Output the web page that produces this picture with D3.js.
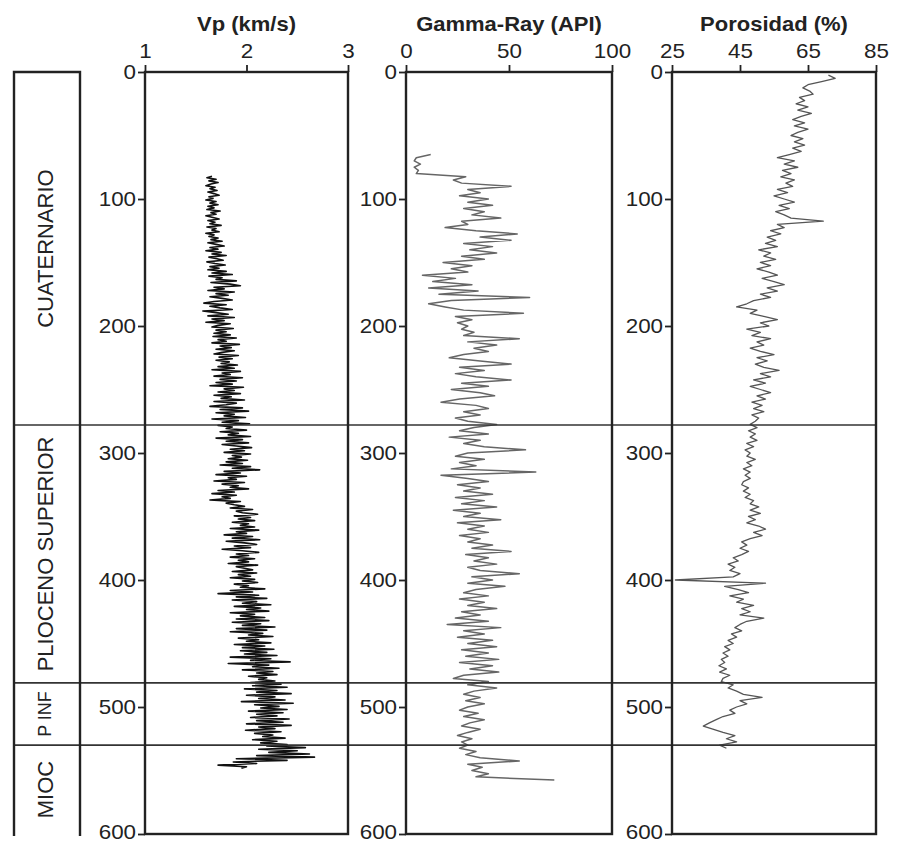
<!DOCTYPE html>
<html>
<head>
<meta charset="utf-8">
<script src="https://cdn.jsdelivr.net/npm/d3@7"></script>
<style>
  body { margin: 0; background: #fff; }
  text { font-family: 'Liberation Sans', Arial, sans-serif; fill: #222; }
</style>
</head>
<body>
<svg id="chart" width="905" height="842"></svg>
<script>
const depthTicks = [0, 100, 200, 300, 400, 500, 600]
const vpTicks = [1, 2, 3]
const gammaTicks = [0, 50, 100]
const porTicks = [25, 45, 65, 85]

const formations = [
  { name: 'CUATERNARIO', top: 0, base: 278 },
  { name: 'PLIOCENO SUPERIOR', top: 278, base: 481 },
  { name: 'P INF', top: 481, base: 530 },
  { name: 'MIOC', top: 530, base: 600 }
]

// Vp (km/s), cada 1.25 m desde 82 m
const vpStart = 82, vpStep = 1.25
const vpValues = [
  1.66,1.61,1.70,1.63,1.72,1.65,1.60,1.69,1.64,1.71,1.62,1.68,1.73,1.63,1.67,1.60,1.70,1.64,1.72,1.62,
  1.68,1.61,1.74,1.65,1.70,1.60,1.67,1.73,1.62,1.69,1.64,1.75,1.61,1.70,1.66,1.73,1.60,1.68,1.63,1.72,
  1.65,1.76,1.62,1.70,1.78,1.64,1.72,1.60,1.75,1.66,1.80,1.63,1.71,1.77,1.61,1.69,1.79,1.64,1.73,1.62,
  1.80,1.66,1.86,1.63,1.76,1.70,1.90,1.65,1.84,1.94,1.68,1.78,1.62,1.88,1.70,1.82,1.64,1.76,1.86,1.68,
  1.58,1.80,1.64,1.74,1.86,1.57,1.70,1.82,1.62,1.88,1.66,1.78,1.60,1.84,1.72,1.66,1.87,1.70,1.80,1.68,
  1.84,1.67,1.90,1.72,1.80,1.66,1.93,1.74,1.85,1.70,1.88,1.76,1.68,1.92,1.73,1.86,1.70,1.83,1.75,1.91,
  1.72,1.88,1.66,1.94,1.76,1.84,1.68,1.96,1.74,1.90,1.70,1.86,1.64,1.97,1.78,1.88,1.72,1.94,1.68,1.85,
  1.75,1.98,1.68,1.90,1.80,1.64,1.96,1.74,2.02,1.70,1.88,1.78,1.99,1.66,1.92,1.76,2.03,1.72,1.86,1.80,
  2.00,1.74,1.92,1.82,2.04,1.70,1.96,1.80,2.02,1.76,1.90,2.05,1.84,1.98,1.78,2.04,1.86,1.95,1.82,2.01,
  1.80,1.96,1.74,2.04,1.86,2.13,1.78,1.94,1.70,2.00,1.82,1.90,1.68,1.98,1.76,1.92,1.84,2.02,1.72,1.88,
  1.66,1.90,1.76,1.84,1.64,1.94,1.80,1.88,1.98,1.84,2.06,1.90,1.96,2.11,1.88,2.04,1.92,2.08,1.86,2.02,
  1.94,2.08,1.84,2.12,1.90,2.00,1.78,2.06,1.86,2.13,1.80,1.98,2.10,1.88,2.04,1.76,1.96,2.12,1.90,2.02,
  1.84,2.08,1.92,2.02,1.82,2.11,1.90,1.98,2.06,1.86,2.10,1.92,2.04,1.84,2.08,1.96,2.11,1.88,2.02,1.94,
  2.18,1.84,2.06,1.72,2.12,1.90,2.20,1.86,2.10,1.96,2.24,1.88,2.14,2.00,2.22,1.84,2.08,1.94,2.18,1.90,
  2.22,1.86,2.14,1.96,2.28,1.90,2.20,1.84,2.16,2.02,2.26,1.92,2.12,2.00,2.24,1.88,2.18,1.96,2.27,1.94,
  2.20,1.98,2.30,1.84,2.24,2.04,2.43,1.82,2.22,2.06,2.32,1.96,2.26,2.10,2.30,2.02,2.20,2.12,2.28,2.04,
  2.34,2.06,2.40,1.98,2.30,2.10,2.44,2.00,2.28,2.12,2.38,1.95,2.46,2.08,2.32,2.14,2.40,2.02,2.36,2.10,
  2.30,2.04,2.42,2.10,2.36,2.00,2.44,2.12,2.28,1.99,2.34,2.08,2.26,2.16,2.38,2.06,2.30,2.14,2.40,2.20,
  2.58,2.12,2.50,2.22,2.62,2.10,2.67,1.90,2.40,1.87,2.10,1.72,2.00,1.95
]

// Gamma-Ray (API), cada 2.5 m desde 65 m
const gammaStart = 65, gammaStep = 2.5
const gammaValues = [
  12,5,4,7,4,6,5,29,23,27,
  51,30,36,26,40,30,42,28,38,32,
  46,27,30,19,34,54,36,51,28,42,
  31,44,27,38,18,32,22,30,8,24,
  13,32,11,35,16,60,22,11,19,28,
  57,24,32,25,30,27,33,28,55,30,
  44,33,40,28,21,36,51,26,38,24,
  34,51,27,40,22,36,43,26,17,34,
  40,28,36,24,30,44,33,26,40,21,
  36,28,38,58,30,24,38,26,34,22,
  63,17,30,40,25,36,28,42,24,38,
  27,44,23,36,28,46,25,38,30,40,
  26,36,30,42,32,51,29,40,33,44,
  30,36,55,32,42,30,48,34,28,40,
  26,38,30,44,27,36,24,40,20,46,
  28,38,25,42,30,44,27,40,29,45,
  26,42,31,45,28,23,40,30,44,33,
  28,36,29,38,30,26,35,28,38,31,
  27,36,30,25,32,27,30,26,34,29,
  36,55,30,37,32,40,34,72
]

// Porosidad (%), cada 2.5 m desde 2.5 m
const porStart = 2.5, porStep = 2.5
const porValues = [
  71,73,69,65,63.5,65.5,66.5,62.5,64,61.5,
  65,62,66,63,60.5,64,61,65,62,60,
  63.5,61,64,60.5,63,59.5,56,61,58,62,
  57.5,60,57,61,58.5,60.5,56,59,55,58,
  61,56.5,59.5,55.5,58,60,69.5,56,58,54,
  57,53,55.5,52.5,56,50.5,54,52,55.5,51,
  54,50,53.5,56,51.5,55,58,53,56,51,
  54,49,47,44,50,48,52,56,51,53.5,
  47,51,48.5,54,50,52,48,51,55,50,
  53,49.5,52,56.5,51,54,49,52.5,48,51,
  54,50,52.5,48.5,51.5,49,52,48.5,50.5,49.5,
  48,50,47.5,49.5,48,50,47,49,46.5,48,
  47,49.5,47,48.5,46,48,46.5,48,46,45.5,
  47.5,46,48,46.5,49,48,50.5,48,51,47.5,
  49.5,47,50.5,52.5,49,51.5,48,45.5,47,45,
  47.5,45.5,43,44.5,41.5,43.5,42,45,43,26,
  52.5,40.5,44.5,47.5,42,46,44,49,45.5,48,
  45,52,47,45,43.5,45.5,42.5,44,41.5,43,
  40.5,42,40,41.5,39.5,40.5,38.8,41,39,42,
  40,39.5,43,41.5,44,46,51.5,45,47,44,
  42,43.5,40,38,36,34.2,37,40,43.5,41,
  44,39,41
]

const svg = d3.select('#chart')
const y = d3.scaleLinear().domain([0, 600]).range([72, 834])
const ink = '#222'

const panels = [
  { title: 'Vp (km/s)', left: 145, right: 348, domain: [1, 3], ticks: vpTicks,
    values: vpValues, start: vpStart, step: vpStep, color: '#111', width: 1.6 },
  { title: 'Gamma-Ray (API)', left: 406, right: 612, domain: [0, 100], ticks: gammaTicks,
    values: gammaValues, start: gammaStart, step: gammaStep, color: '#666', width: 1.5 },
  { title: 'Porosidad (%)', left: 672, right: 876, domain: [25, 85], ticks: porTicks,
    values: porValues, start: porStart, step: porStep, color: '#555', width: 1.3 }
]

// curvas
panels.forEach(p => {
  const x = d3.scaleLinear().domain(p.domain).range([p.left, p.right])
  p.x = x
  const pts = p.values.map((v, i) => ({ depth: p.start + i * p.step, value: v }))
  const line = d3.line().x(d => x(d.value)).y(d => y(d.depth))
  svg.append('path')
    .attr('d', line(pts))
    .attr('fill', 'none')
    .attr('stroke', p.color)
    .attr('stroke-width', p.width)
    .attr('stroke-linejoin', 'round')
})

// limites de formaciones
svg.append('g').selectAll('line')
  .data(formations.slice(1))
  .enter().append('line')
  .attr('x1', 13).attr('x2', 877)
  .attr('y1', d => y(d.top)).attr('y2', d => y(d.top))
  .attr('stroke', '#333').attr('stroke-width', 1.6)

// columna estratigrafica
const col = svg.append('g')
col.append('path')
  .attr('d', `M14,${y(600) + 2}V${y(0)}H80V${y(600) + 2}`)
  .attr('fill', 'none').attr('stroke', ink).attr('stroke-width', 2.4)
col.selectAll('text').data(formations).enter().append('text')
  .attr('transform', d => `translate(45,${(y(d.top) + y(d.base)) / 2}) rotate(-90)`)
  .attr('text-anchor', 'middle')
  .attr('dominant-baseline', 'central')
  .attr('font-size', d => d.name === 'P INF' ? 18 : 22)
  .text(d => d.name)

// marcos, ejes y titulos
panels.forEach(p => {
  const g = svg.append('g')
  g.append('rect')
    .attr('x', p.left).attr('y', y(0))
    .attr('width', p.right - p.left).attr('height', y(600) - y(0))
    .attr('fill', 'none').attr('stroke', ink).attr('stroke-width', 2.4)

  const topAxis = g.append('g')
    .attr('transform', `translate(0,${y(0)})`)
    .call(d3.axisTop(p.x).tickValues(p.ticks).tickSize(7).tickPadding(7).tickFormat(d3.format('d')))
  const leftAxis = g.append('g')
    .attr('transform', `translate(${p.left},0)`)
    .call(d3.axisLeft(y).tickValues(depthTicks).tickSize(7).tickPadding(1).tickFormat(d3.format('d')))

  ;[topAxis, leftAxis].forEach(a => {
    a.attr('font-family', null).attr('font-size', 20)
    a.select('.domain').remove()
    a.selectAll('line').attr('stroke', ink).attr('stroke-width', 1.8)
    a.selectAll('text').attr('fill', ink).attr('transform', 'scale(1.12,1)')
  })
  // el 600 queda pegado al borde inferior
  leftAxis.selectAll('text').attr('dy', d => d === 600 ? '0.22em' : '0.32em')

  g.append('text')
    .attr('transform', `translate(${(p.left + p.right) / 2},31) scale(1.1,1)`)
    .attr('text-anchor', 'middle')
    .attr('font-size', 20)
    .attr('font-weight', 'bold')
    .text(p.title)
})
</script>
</body>
</html>
